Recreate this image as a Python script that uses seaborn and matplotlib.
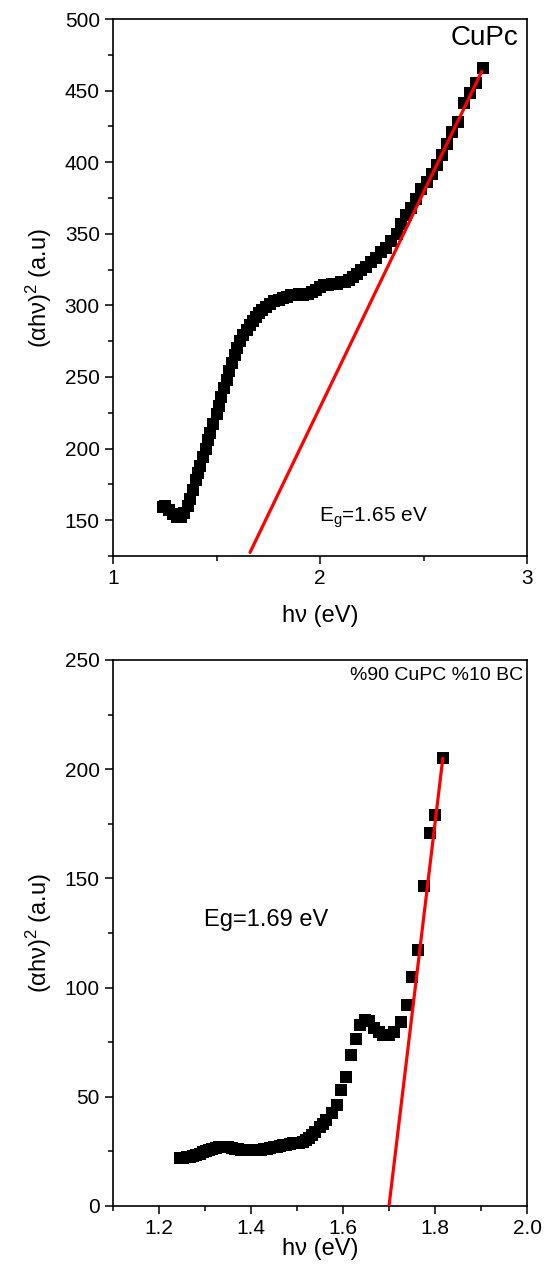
import matplotlib
matplotlib.use("Agg")
import matplotlib.pyplot as plt
import seaborn as sns
import pandas as pd
from matplotlib.ticker import MultipleLocator, FixedLocator

# ---------------- data: top panel (CuPc) ----------------
cupc_hv = [1.240, 1.250, 1.270, 1.290, 1.310, 1.330, 1.345, 1.360, 1.370, 1.385,
           1.400, 1.410, 1.420, 1.435, 1.450, 1.460, 1.470, 1.485, 1.500, 1.510,
           1.520, 1.535, 1.550, 1.560, 1.575, 1.590, 1.600, 1.615, 1.630, 1.645,
           1.660, 1.675, 1.690, 1.705, 1.720, 1.740, 1.760, 1.780, 1.800, 1.820,
           1.840, 1.860, 1.880, 1.900, 1.920, 1.940, 1.960, 1.980, 2.000, 2.020,
           2.040, 2.060, 2.080, 2.100, 2.120, 2.140, 2.160, 2.180, 2.200, 2.220,
           2.245, 2.270, 2.295, 2.320, 2.345, 2.370, 2.390, 2.415, 2.440, 2.465,
           2.490, 2.515, 2.540, 2.565, 2.590, 2.615, 2.640, 2.665, 2.695, 2.725,
           2.755, 2.787]
cupc_y = [159, 160, 157, 154, 152, 152, 155, 160, 165, 171,
          178, 183, 188, 194, 200, 206, 211, 217, 224, 230,
          236, 242, 248, 254, 260, 265, 270, 275, 279, 283,
          286, 289, 292, 295, 297, 299, 301, 303, 304, 305,
          306, 307, 307, 308, 307, 308, 309, 311, 313, 314,
          314, 315, 315, 316, 316, 318, 320, 322, 325, 327,
          330, 333, 337, 340, 345, 350, 357, 363, 368, 374,
          381, 386, 392, 398, 405, 413, 421, 428, 441, 448,
          455, 466]
cupc_fit_x = [1.662, 2.782]
cupc_fit_y = [127.5, 463.5]

# ---------------- data: bottom panel (%90 CuPC %10 BC) ----------------
mix_hv = [1.246, 1.253, 1.260, 1.267, 1.274, 1.281, 1.288, 1.295, 1.302, 1.309,
          1.316, 1.323, 1.330, 1.337, 1.344, 1.351, 1.358, 1.365, 1.372, 1.379,
          1.386, 1.393, 1.400, 1.407, 1.414, 1.421, 1.428, 1.435, 1.442, 1.449,
          1.456, 1.463, 1.470, 1.477, 1.484, 1.491, 1.498, 1.505, 1.512, 1.519,
          1.526, 1.533, 1.540, 1.550, 1.557, 1.564, 1.575, 1.586, 1.596, 1.607,
          1.617, 1.628, 1.638, 1.648, 1.657, 1.667, 1.678, 1.688, 1.699, 1.710,
          1.727, 1.740, 1.751, 1.763, 1.776, 1.789, 1.801, 1.817]
mix_y = [22.0, 22.0, 22.2, 22.6, 23.0, 23.5, 24.0, 24.6, 25.2, 25.7,
         26.2, 26.6, 26.9, 27.0, 27.0, 26.8, 26.5, 26.2, 26.0, 25.8,
         25.6, 25.5, 25.5, 25.5, 25.6, 25.8, 26.0, 26.2, 26.5, 26.8,
         27.1, 27.4, 27.7, 28.0, 28.3, 28.6, 28.8, 29.0, 29.3, 30.0,
         31.2, 32.5, 34.0, 36.0, 37.5, 39.5, 42.5, 46.0, 53.0, 59.0,
         69.0, 76.5, 83.0, 85.0, 84.5, 81.5, 79.5, 78.5, 78.5, 79.5,
         84.0, 92.0, 105.0, 117.0, 146.5, 171.0, 179.0, 205.0]
mix_fit_x = [1.700, 1.817]
mix_fit_y = [0.0, 205.0]

xlabel = "hν (eV)"
ylabel = r"(αhν)$^2$ (a.u)"

# ---------------- styling ----------------
sns.set_theme(style="ticks")
plt.rcParams["font.family"] = ["Liberation Sans", "DejaVu Sans"]
plt.rcParams["mathtext.fontset"] = "custom"
plt.rcParams["mathtext.rm"] = "Liberation Sans"
plt.rcParams["mathtext.it"] = "Liberation Sans"
plt.rcParams["mathtext.default"] = "regular"
plt.rcParams["axes.unicode_minus"] = False
plt.rcParams["text.color"] = "black"
plt.rcParams["axes.labelcolor"] = "black"
plt.rcParams["xtick.color"] = "black"
plt.rcParams["ytick.color"] = "black"
plt.rcParams["axes.edgecolor"] = "black"

fig = plt.figure(figsize=(5.5, 12.67), dpi=100)
ax1 = fig.add_axes([0.2055, 0.5612, 0.7527, 0.4238])
ax2 = fig.add_axes([0.2055, 0.0482, 0.7527, 0.4309])

df1 = pd.DataFrame({"hv": cupc_hv, "y": cupc_y})
df2 = pd.DataFrame({"hv": mix_hv, "y": mix_y})

for ax, df, fx, fy, ms in [(ax1, df1, cupc_fit_x, cupc_fit_y, 78), (ax2, df2, mix_fit_x, mix_fit_y, 68)]:
    sns.scatterplot(data=df, x="hv", y="y", ax=ax, marker="s", color="black",
                    s=ms, linewidth=0, zorder=3)
    sns.lineplot(x=fx, y=fy, ax=ax, color="#ff0000", linewidth=2.3, zorder=4)
    for s in ax.spines.values():
        s.set_linewidth(1.2)
        s.set_color("black")
    ax.tick_params(axis="both", which="major", direction="out", length=6, width=1.1,
                   labelsize=15, colors="black", top=False, right=False)
    ax.tick_params(axis="both", which="minor", direction="out", length=3.5, width=1.1,
                   colors="black", top=False, right=False)
    ax.set_xlabel(xlabel, fontsize=17, color="black")
    ax.set_ylabel(ylabel, fontsize=17, color="black")

# top panel axes
ax1.set_xlim(1, 3)
ax1.set_ylim(125, 500)
ax1.xaxis.set_major_locator(FixedLocator([1, 2, 3]))
ax1.xaxis.set_minor_locator(FixedLocator([1.5, 2.5]))
ax1.yaxis.set_major_locator(FixedLocator([150, 200, 250, 300, 350, 400, 450, 500]))
ax1.yaxis.set_minor_locator(FixedLocator([125, 175, 225, 275, 325, 375, 425, 475]))
ax1.xaxis.labelpad = 12
ax1.yaxis.labelpad = 8
ax1.text(0.978, 0.988, "CuPc", transform=ax1.transAxes, ha="right", va="top",
         fontsize=20, color="black")
ax1.text(2.256, 152, r"E$_g$=1.65 eV", ha="center", va="center", fontsize=15, color="black")

# bottom panel axes
ax2.set_xlim(1.1, 2.0)
ax2.set_ylim(0, 250)
ax2.xaxis.set_major_locator(FixedLocator([1.2, 1.4, 1.6, 1.8, 2.0]))
ax2.xaxis.set_minor_locator(FixedLocator([1.1, 1.3, 1.5, 1.7, 1.9]))
ax2.yaxis.set_major_locator(MultipleLocator(50))
ax2.yaxis.set_minor_locator(MultipleLocator(25))
ax2.xaxis.set_major_formatter(matplotlib.ticker.FormatStrFormatter("%.1f"))
ax2.xaxis.labelpad = 0
ax2.yaxis.labelpad = 8
ax2.text(0.99, 0.988, "%90 CuPC %10 BC", transform=ax2.transAxes, ha="right", va="top",
         fontsize=14, color="black")
ax2.text(1.433, 131, "Eg=1.69 eV", ha="center", va="center", fontsize=17, color="black")

fig.savefig("out.png", dpi=100)
